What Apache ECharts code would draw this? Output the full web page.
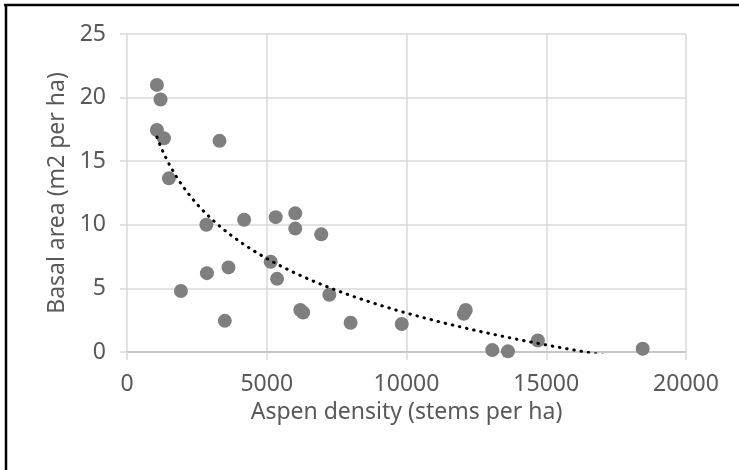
<!DOCTYPE html>
<html>
<head>
<meta charset="utf-8">
<script src="https://cdn.jsdelivr.net/npm/echarts@6.0.0/dist/echarts.min.js"></script>
<style>
  html, body { margin: 0; padding: 0; background: #fff; }
  #chart { width: 739px; height: 470px; }
</style>
</head>
<body>
<div id="chart"></div>
<script>
// aspen density (stems per ha) vs basal area (m2 per ha)
var densityX = [1070, 1200, 1070, 1320, 3310, 1500, 2840, 4190, 5320, 6020,
                6020, 6950, 5140, 5370, 2860, 3630, 1930, 3500, 7240, 6200,
                6300, 8000, 9830, 12050, 12120, 13070, 13630, 14700, 18450];
var basalY = [21.0, 19.85, 17.45, 16.8, 16.6, 13.65, 10.0, 10.4, 10.6, 10.9,
              9.7, 9.25, 7.1, 5.75, 6.2, 6.65, 4.8, 2.45, 4.5, 3.3,
              3.1, 2.3, 2.2, 3.0, 3.3, 0.15, 0.05, 0.9, 0.25];
var xTicks = [0, 5000, 10000, 15000, 20000];
var yTicks = [0, 5, 10, 15, 20, 25];

var labelColor = '#595959';
var fontFam = '"Noto Sans", sans-serif';

// log trendline (least squares on ln x), like the spreadsheet one
function logFit(xs, ys) {
    var n = xs.length, sx = 0, sy = 0, sxx = 0, sxy = 0;
    for (var i = 0; i < n; i++) {
        var lx = Math.log(xs[i]);
        sx += lx; sy += ys[i]; sxx += lx * lx; sxy += lx * ys[i];
    }
    var a = (n * sxy - sx * sy) / (n * sxx - sx * sx);
    var b = (sy - a * sx) / n;
    return {a: a, b: b};
}
var fit = logFit(densityX, basalY);
var xMin = Math.min.apply(null, densityX), xMax = Math.max.apply(null, densityX);
var trend = [];
for (var k = 0; k <= 200; k++) {
    var xv = xMin + (xMax - xMin) * k / 200;
    trend.push([xv, fit.a * Math.log(xv) + fit.b]);
}

var pts = densityX.map(function (x, i) { return [x, basalY[i]]; });

var option = {
    animation: false,
    backgroundColor: '#fff',
    grid: { left: 127, right: 53, top: 34, bottom: 118 },
    xAxis: {
        type: 'value',
        min: xTicks[0], max: xTicks[xTicks.length - 1], interval: 5000,
        name: 'Aspen density (stems per ha)',
        nameLocation: 'middle', nameGap: 45,
        nameTextStyle: { color: labelColor, fontSize: 23, fontFamily: fontFam },
        axisLine: { show: true, onZero: false, lineStyle: { color: '#bfbfbf', width: 1.5 } },
        axisTick: { show: true, inside: false, length: 8, lineStyle: { color: '#d9d9d9', width: 1.5 } },
        axisLabel: {
            color: labelColor, fontSize: 23, fontFamily: fontFam, margin: 21,
            formatter: function (v) { return String(v); }
        },
        splitLine: { show: true, lineStyle: { color: '#d9d9d9', width: 1.5 } }
    },
    yAxis: {
        type: 'value',
        min: yTicks[0], max: yTicks[yTicks.length - 1], interval: 5,
        name: 'Basal area (m2 per ha)',
        nameLocation: 'middle', nameGap: 58,
        nameTextStyle: { color: labelColor, fontSize: 23, fontFamily: fontFam },
        axisLine: { show: false },
        axisTick: { show: true, inside: false, length: 7, lineStyle: { color: '#d9d9d9', width: 1.5 } },
        axisLabel: { color: labelColor, fontSize: 23, fontFamily: fontFam, margin: 21 },
        splitLine: { show: true, lineStyle: { color: '#d9d9d9', width: 1.5 } }
    },
    graphic: [
        { type: 'line', shape: { x1: 4, y1: 5, x2: 739, y2: 5 }, style: { stroke: '#000', lineWidth: 2.5 } },
        { type: 'line', shape: { x1: 6, y1: 4, x2: 6, y2: 470 }, style: { stroke: '#000', lineWidth: 2.5 } }
    ],
    series: [
        {
            type: 'scatter',
            data: pts,
            symbol: 'circle',
            symbolSize: 14,
            itemStyle: { color: '#7f7f7f', opacity: 1 },
            z: 2
        },
        {
            type: 'line',
            data: trend,
            showSymbol: false,
            clip: true,
            smooth: false,
            lineStyle: { color: '#000', width: 3, type: [0.5, 6.8], cap: 'round' },
            z: 3
        }
    ]
};

var myChart = echarts.init(document.getElementById('chart'));
myChart.setOption(option);
</script>
</body>
</html>
